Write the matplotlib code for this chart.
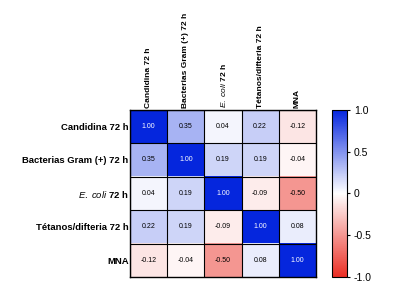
import numpy as np
import matplotlib
matplotlib.use("Agg")
import matplotlib.pyplot as plt
from matplotlib.colors import LinearSegmentedColormap

plt.rcParams['font.family'] = 'Liberation Sans'
plt.rcParams['mathtext.fontset'] = 'custom'
plt.rcParams['mathtext.it'] = 'Liberation Sans:italic'
plt.rcParams['mathtext.rm'] = 'Liberation Sans'

etiquetas = ["Candidina 72 h", "Bacterias Gram (+) 72 h", r"$\mathit{E.\ coli}$ 72 h",
             "Tétanos/difteria 72 h", "MNA"]
corr = np.array([
    [1.00, 0.35, 0.04, 0.22, -0.12],
    [0.35, 1.00, 0.19, 0.19, -0.04],
    [0.04, 0.19, 1.00, -0.09, -0.50],
    [0.22, 0.19, -0.09, 1.00, 0.08],
    [-0.12, -0.04, -0.50, 0.08, 1.00],
])
cbar_ticks = [-1.0, -0.5, 0, 0.5, 1.0]
cbar_labels = ["-1.0", "-0.5", "0", "0.5", "1.0"]

cmap = LinearSegmentedColormap.from_list(
    "rwb", [(0.92, 0.18, 0.14), (1, 1, 1), (0.02, 0.15, 0.87)])

fig = plt.figure(figsize=(4.04, 3.01), dpi=100)
ax = fig.add_axes([0.322, 0.080, 0.460, 0.555])
cax = fig.add_axes([0.822, 0.080, 0.037, 0.555])

im = ax.imshow(corr, cmap=cmap, vmin=-1, vmax=1, aspect='auto')
n = len(etiquetas)
for i in range(n):
    for j in range(n):
        v = corr[i, j]
        ax.text(j, i, f"{v:.2f}", ha='center', va='center', fontsize=5,
                color='white' if v > 0.9 else 'black')

ax.set_xticks(np.arange(n) - 0.5, minor=True)
ax.set_yticks(np.arange(n) - 0.5, minor=True)
ax.grid(which='minor', color='black', linewidth=0.8)
ax.tick_params(which='both', length=0)
ax.set_xticks(np.arange(n))
ax.set_yticks(np.arange(n))
ax.set_xticklabels(etiquetas, rotation=90, fontsize=6, fontweight='bold')
ax.set_yticklabels(etiquetas, fontsize=6.8, fontweight='bold')
ax.xaxis.tick_top()
ax.tick_params(axis='both', pad=1)
for s in ax.spines.values():
    s.set_linewidth(1.0)

cb = fig.colorbar(im, cax=cax, ticks=cbar_ticks)
cb.ax.set_yticklabels(cbar_labels, fontsize=7.5)
cb.ax.tick_params(length=2, width=0.8, pad=3)
cb.outline.set_linewidth(0.8)

fig.savefig("out.png", dpi=100)
